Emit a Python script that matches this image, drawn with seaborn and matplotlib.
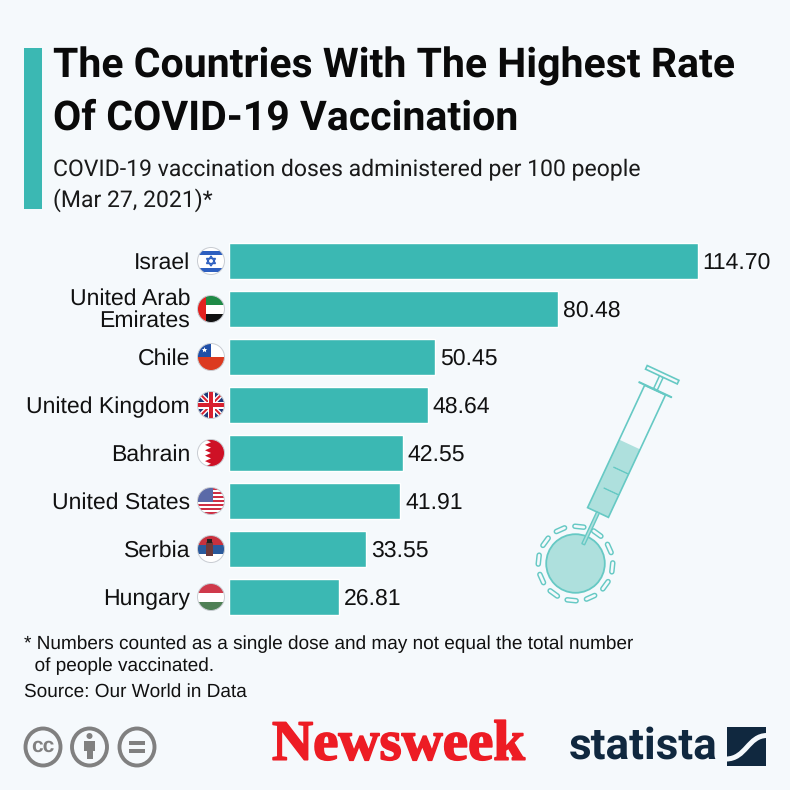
import matplotlib
matplotlib.use('Agg')
import numpy as np
import pandas as pd
import seaborn as sns
import matplotlib.pyplot as plt
from matplotlib.patches import Circle, Rectangle, Polygon, Ellipse, PathPatch
from matplotlib.path import Path
from matplotlib.transforms import Affine2D
import matplotlib.patheffects as pe

# Chart data
countries = ['Israel', 'United Arab\nEmirates', 'Chile', 'United Kingdom',
             'Bahrain', 'United States', 'Serbia', 'Hungary']
doses = [114.70, 80.48, 50.45, 48.64, 42.55, 41.91, 33.55, 26.81]
dose_labels = ['114.70', '80.48', '50.45', '48.64', '42.55', '41.91', '33.55', '26.81']

title_lines = ['The Countries With The Highest Rate', 'Of COVID-19 Vaccination']
subtitle_lines = ['COVID-19 vaccination doses administered per 100 people', '(Mar 27, 2021)*']
note_lines = ['* Numbers counted as a single dose and may not equal the total number',
              '  of people vaccinated.']
source = 'Source: Our World in Data'

BG = '#f5f9fc'
TEAL = '#3bb8b3'
LIGHT = '#aee0dd'
LINE = '#66c9c4'

sns.set_theme(style='white')
plt.rcParams['font.family'] = ['Liberation Sans', 'DejaVu Sans']
plt.rcParams['text.hinting'] = 'no_hinting'
plt.rcParams['text.hinting_factor'] = 1

fig = plt.figure(figsize=(7.9, 7.9), dpi=100, facecolor=BG)

# Bars
df = pd.DataFrame({'country': countries, 'doses': doses})
ax = fig.add_axes([229 / 790, 1 - 621 / 790, 561 / 790, 384 / 790])
ax.set_facecolor('none')
sns.barplot(data=df, x='doses', y='country', color=TEAL, saturation=1, width=0.73, ax=ax)
ax.set_xlim(0, 561 / 4.089)
ax.set_ylim(7.5, -0.5)
ax.set_xlabel('')
ax.set_ylabel('')
ax.set_xticks([])
ax.set_yticks([])
sns.despine(ax=ax, left=True, bottom=True)
for i, lab in enumerate(dose_labels):
    ax.annotate(lab, (doses[i], i), xytext=(3.4, -1), textcoords='offset points',
                va='center', ha='left', fontsize=16.3, color='#111111')

# Overlay in pixel coordinates for the decoration
ov = fig.add_axes([0, 0, 1, 1])
ov.set_xlim(0, 790)
ov.set_ylim(790, 0)
ov.axis('off')
ov.patch.set_alpha(0)

ov.add_patch(Rectangle((24, 48), 18, 161, color=TEAL, lw=0))


def fit_width(txt, width):
    # no narrow font here, so size the text to the width it has in the reference
    r = fig.canvas.get_renderer()
    txt.set_fontsize(txt.get_fontsize() * width / txt.get_window_extent(r).width)


narrow = ['Roboto', 'Liberation Sans']
t1 = ov.text(53, 66, title_lines[0], fontsize=30, fontweight='bold', family=narrow, va='center', color='#0a0a0a')
fit_width(t1, 687)
ov.text(53, 118, title_lines[1], fontsize=t1.get_fontsize(), fontweight='bold', family=narrow,
        va='center', color='#0a0a0a')
s1 = ov.text(53, 169, subtitle_lines[0], fontsize=16, family=narrow, va='center', color='#1a1a1a')
fit_width(s1, 573)
ov.text(53, 200, subtitle_lines[1], fontsize=s1.get_fontsize(), family=narrow, va='center', color='#1a1a1a')

for i, name in enumerate(countries):
    cy = 261 + 48 * i
    ov.text(190, cy + 2 if i != 1 else cy + 1, name, ha='right', va='center', fontsize=16.3,
            color='#111111', linespacing=1.0)

for y, line in zip([644, 666], note_lines):
    ov.text(24, y, line, fontsize=13.9, va='center', color='#111111')
ov.text(24, 692, source, fontsize=13.9, va='center', color='#111111')


# Round flags
def flag(cy, draw):
    cx = 211
    r = 13.5
    clip = Circle((cx, cy), r, transform=ov.transData)
    ov.add_patch(Circle((cx, cy), r, fc='white', ec='none', zorder=3))
    for p in draw(cx, cy, r):
        p.set_zorder(4)
        ov.add_patch(p)
        p.set_clip_path(clip)
    ov.add_patch(Circle((cx, cy), r, fc='none', ec='#c8ccd2', lw=0.7, zorder=5))


def rect(x, y, w, h, c):
    return Rectangle((x, y), w, h, fc=c, ec='none')


def israel(cx, cy, r):
    blue = '#2d5fc0'
    return [rect(cx - r, cy - r + 3, 2 * r, 4, blue), rect(cx - r, cy + r - 7, 2 * r, 4, blue),
            Polygon([(cx, cy - 5), (cx + 4.5, cy + 2.5), (cx - 4.5, cy + 2.5)], fc='none', ec=blue, lw=1),
            Polygon([(cx, cy + 5), (cx + 4.5, cy - 2.5), (cx - 4.5, cy - 2.5)], fc='none', ec=blue, lw=1)]


def uae(cx, cy, r):
    return [rect(cx - r, cy - r, 2 * r, 9, '#1f8a46'), rect(cx - r, cy + r - 9, 2 * r, 9, '#111111'),
            rect(cx - r, cy - r, 8, 2 * r, '#e3211f')]


def chile(cx, cy, r):
    return [rect(cx - r, cy, 2 * r, r, '#dc3a20'), rect(cx - r, cy - r, r, r, '#1f4fa8'),
            Polygon([(cx - 6.5 + 3 * np.sin(a), cy - 7 - 3 * np.cos(a)) for a in np.arange(5) * 4 * np.pi / 5],
                    fc='white', ec='none')]


def uk(cx, cy, r):
    red = '#d8202f'
    parts = [rect(cx - r, cy - r, 2 * r, 2 * r, '#1f3a7a')]
    for s in (1, -1):
        for w, c in ((3.4, 'white'), (1.4, red)):
            parts.append(Polygon([(cx - r - w, cy - s * r), (cx - r + w, cy - s * r),
                                  (cx + r + w, cy + s * r), (cx + r - w, cy + s * r)], fc=c, ec='none'))
    parts += [rect(cx - 3.5, cy - r, 7, 2 * r, 'white'), rect(cx - r, cy - 3.5, 2 * r, 7, 'white'),
              rect(cx - 2, cy - r, 4, 2 * r, red), rect(cx - r, cy - 2, 2 * r, 4, red)]
    return parts


def bahrain(cx, cy, r):
    pts = [(cx - 6, cy - r)]
    for k in range(5):
        top = cy - r + k * 2 * r / 5
        pts += [(cx + 0, top + r / 5), (cx - 6, top + 2 * r / 5)]
    pts += [(cx + r, cy + r), (cx + r, cy - r)]
    return [Polygon(pts, fc='#ce1126', ec='none')]


def usa(cx, cy, r):
    parts = []
    h = 2 * r / 13
    for k in range(0, 13, 2):
        parts.append(rect(cx - r, cy - r + k * h, 2 * r, h, '#cf2f45'))
    parts.append(rect(cx - r, cy - r, r * 1.15, 7 * h, '#5a6aa8'))
    return parts


def serbia(cx, cy, r):
    return [rect(cx - r, cy - r, 2 * r, 9, '#c8313e'), rect(cx - r, cy - r + 9, 2 * r, 9, '#2a5a9c'),
            rect(cx - 5, cy - 7, 7, 14, '#6e3a3a'), rect(cx - 4, cy - 10, 5, 4, '#222222')]


def hungary(cx, cy, r):
    return [rect(cx - r, cy - r, 2 * r, 9, '#cf3a4b'), rect(cx - r, cy + r - 9, 2 * r, 9, '#4f8055')]


for i, drawer in enumerate([israel, uae, chile, uk, bahrain, usa, serbia, hungary]):
    flag(261 + 48 * i, drawer)

# Syringe, drawn along its own axis and then rotated
rot = Affine2D().rotate_deg(25).translate(598, 512.5) + ov.transData


def syr(p):
    ov.add_patch(p)
    p.set_transform(rot)


syr(Rectangle((-11.5, -75), 23, 75, fc=LIGHT, ec='none'))
syr(Rectangle((-11.5, -135), 23, 135, fc='none', ec=LINE, lw=1.2))
syr(Rectangle((-1.5, 0), 3, 35, fc=LIGHT, ec=LINE, lw=1.0, zorder=2))
syr(Rectangle((-18, -136), 36, 1, fc=LINE, ec=LINE, lw=0.8))
syr(Rectangle((-2, -150), 4, 14, fc=BG, ec=LINE, lw=1.1))
syr(Rectangle((-17.5, -154), 35, 4, fc=BG, ec=LINE, lw=1.2))
syr(Rectangle((-5, -48), 16.5, 0.6, fc=LINE, ec=LINE, lw=0.5))
syr(Rectangle((-5, -25), 16.5, 0.6, fc=LINE, ec=LINE, lw=0.5))

# Virus body and its ring of dashes
vx, vy = 575.5, 563.5
ov.add_patch(Circle((vx, vy), 29.3, fc=LIGHT, ec=LINE, lw=1.3, zorder=0.5))
for a in np.arange(-84, 276, 30):
    rad = np.deg2rad(a)
    ux, uy = np.cos(rad), np.sin(rad)
    px, py = vx + 37 * ux, vy + 37 * uy
    seg = ([px + 4.5 * uy, px - 4.5 * uy], [py - 4.5 * ux, py + 4.5 * ux])
    ov.plot(*seg, color=LINE, lw=4.0, solid_capstyle='round', zorder=1)
    ov.plot(*seg, color=BG, lw=1.9, solid_capstyle='round', zorder=1.1)

# Licence icons
grey = '#808080'
for cx in (43, 89.5, 137):
    ov.add_patch(Ellipse((cx, 747), 35, 37, fc='none', ec=grey, lw=2.8))
ov.text(43, 746, 'cc', ha='center', va='center', fontsize=15, fontweight='bold', color=grey)
ov.add_patch(Circle((89.5, 736), 3, fc=grey, ec='none'))
ov.add_patch(Rectangle((84, 741), 11, 10, fc=grey, ec='none'))
ov.add_patch(Rectangle((86.5, 750), 6, 9, fc=grey, ec='none'))
ov.add_patch(Rectangle((129, 741), 16, 3.5, fc=grey, ec='none'))
ov.add_patch(Rectangle((129, 749), 16, 3.5, fc=grey, ec='none'))

# Logos
nw = ov.text(272, 746, 'Newsweek', family=['Liberation Serif'], fontweight='bold', fontsize=40,
             color='#ed1c24', va='center', ha='left',
             path_effects=[pe.withStroke(linewidth=1.2, foreground='#ed1c24')])
fit_width(nw, 255)
st = ov.text(569, 747, 'statista', family=narrow, fontweight='bold', fontsize=30, color='#10283f',
             va='center', ha='left')
fit_width(st, 150)
box = Rectangle((727, 727), 39, 39, fc='#10283f', ec='none')
ov.add_patch(box)
swoosh = PathPatch(Path([(767, 735.5), (748, 735.5), (746, 759), (726, 759)],
                        [Path.MOVETO, Path.CURVE4, Path.CURVE4, Path.CURVE4]),
                   fc='none', ec=BG, lw=3.6)
ov.add_patch(swoosh)
swoosh.set_clip_path(box)

fig.savefig('out.png', dpi=100, facecolor=BG)
